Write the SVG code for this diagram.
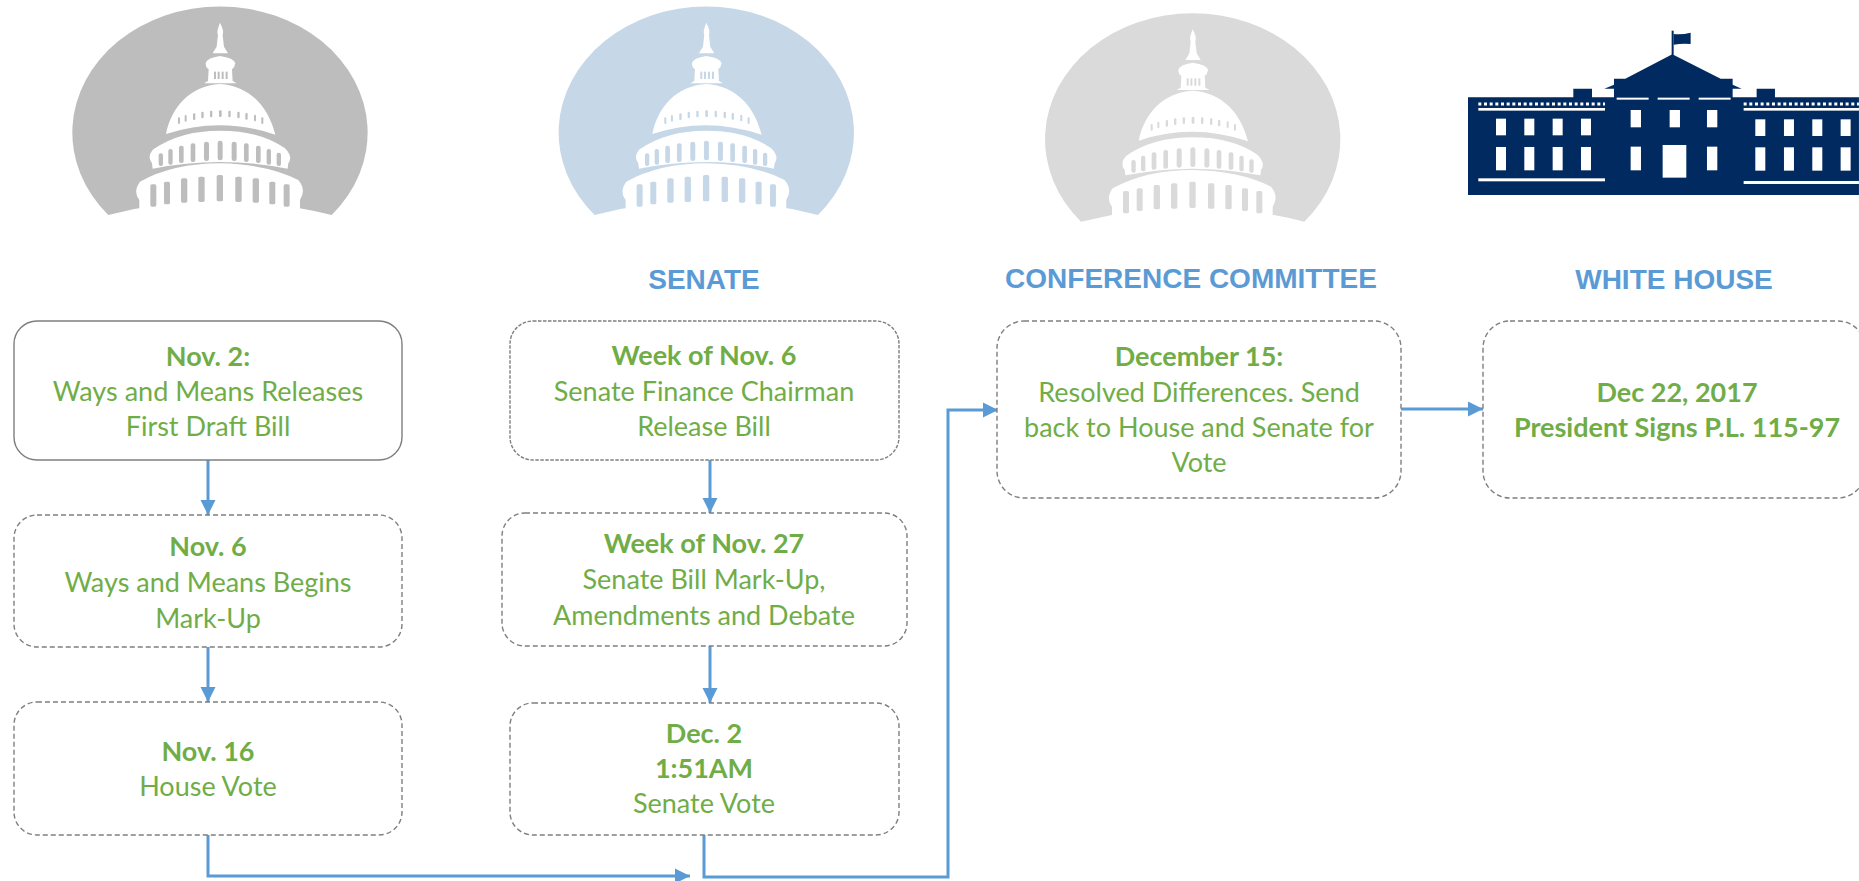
<svg xmlns="http://www.w3.org/2000/svg" width="1859" height="881" viewBox="0 0 1859 881">
<style>
.box{fill:#fff;stroke:#7f7f7f;stroke-width:1.4}
.dash{stroke-dasharray:5 3}
.dot{stroke-dasharray:3.5 1.5}
.t{font-family:"Lato","Carlito","Liberation Sans",sans-serif;font-size:27px;fill:#70ad47;text-anchor:middle}
.b{font-weight:700}
.h{font-family:"Liberation Sans",Arial,sans-serif;font-weight:700;font-size:28px;fill:#5b9bd5;text-anchor:middle}
.c{fill:none;stroke:#5b9bd5;stroke-width:3;marker-end:url(#ah)}
.w{fill:#fff}
</style>
<defs>
<marker id="ah" markerUnits="userSpaceOnUse" markerWidth="16" markerHeight="16" refX="15" refY="8" orient="auto"><path d="M0 0.5L15 8L0 15.5Z" fill="#5b9bd5"/></marker>
<g id="dome" transform="scale(.3333)">
<path d="M205 645A443 378 0 1 1 875 645Q540 560 205 645Z"/>
<g class="w">
<path d="M540 68C548 85 552 95 548 105L552 140L564 160L518 160L530 140L534 105C530 95 534 85 540 68Z"/>
<path d="M497 190Q500 174 540 168Q582 174 586 190Q584 203 576 208L578 243L590 250H492L504 243L506 208Q497 203 497 190Z"/>
<path d="M378 402C395 320 450 258 540 252C630 258 685 320 706 404Q540 348 378 402Z"/>
<path d="M338 506L336 490Q320 470 340 448Q420 392 540 392Q660 392 735 445Q760 470 745 490L743 506Q540 466 338 506Z"/>
<path d="M298 650V600Q278 575 300 545Q400 490 540 490Q680 492 775 540Q800 570 780 600V650Z"/>
</g>
<g>
<rect x="522" y="215" width="6" height="22"/><rect x="533" y="215" width="6" height="22"/><rect x="545" y="215" width="6" height="22"/><rect x="557" y="215" width="6" height="22"/>
<rect x="414" y="352" width="6" height="20" rx="3"/><rect x="434" y="345" width="6" height="20" rx="3"/><rect x="459" y="340" width="7" height="20" rx="3"/><rect x="484" y="335" width="7" height="20" rx="3"/><rect x="510" y="332" width="7" height="20" rx="3"/><rect x="537" y="331" width="8" height="20" rx="3"/><rect x="565" y="332" width="7" height="20" rx="3"/><rect x="592" y="335" width="7" height="20" rx="3"/><rect x="616" y="339" width="7" height="20" rx="3"/><rect x="642" y="344" width="6" height="20" rx="3"/><rect x="664" y="352" width="6" height="20" rx="3"/>
<rect x="356" y="460" width="13" height="38" rx="6"/><rect x="385" y="447" width="13" height="47" rx="6"/><rect x="417" y="437" width="14" height="52" rx="6"/><rect x="452" y="430" width="14" height="56" rx="6"/><rect x="492" y="425" width="15" height="58" rx="7"/><rect x="533" y="422" width="15" height="59" rx="7"/><rect x="575" y="425" width="15" height="58" rx="7"/><rect x="612" y="430" width="14" height="56" rx="6"/><rect x="648" y="437" width="14" height="52" rx="6"/><rect x="680" y="447" width="13" height="47" rx="6"/><rect x="710" y="458" width="13" height="40" rx="6"/>
<rect x="331" y="553" width="18" height="67" rx="5"/><rect x="372" y="545" width="18" height="68" rx="5"/><rect x="423" y="535" width="19" height="73" rx="5"/><rect x="475" y="530" width="19" height="76" rx="5"/><rect x="530" y="525" width="19" height="79" rx="5"/><rect x="586" y="530" width="19" height="76" rx="5"/><rect x="638" y="535" width="19" height="73" rx="5"/><rect x="688" y="545" width="18" height="68" rx="5"/><rect x="731" y="553" width="18" height="67" rx="5"/>
</g>
</g>
</defs>
<g id="logo-house"><use href="#dome" x="40" y="0" fill="#bdbdbd"/></g>
<g id="logo-senate"><use href="#dome" x="526.3" y="0" fill="#c6d7e7"/></g>
<g id="logo-conference"><use href="#dome" x="1012.7" y="6.7" fill="#dadada"/></g>
<g id="logo-white-house" transform="translate(1450 10) scale(.3333)">
<path fill="#012a60" d="M54 262H370V236H426V262H492V236H463L492 224V206H526L667 133L812 206H848V224L875 236H848V262H920V236H975V262H1227V555H54Z"/>
<rect x="665" y="62" width="6" height="73" fill="#012a60"/>
<path fill="#012a60" d="M671 72Q695 75 722 68V102Q695 100 671 104Z"/>
<g class="w">
<rect x="500" y="263" width="96" height="6"/><rect x="623" y="263" width="96" height="6"/><rect x="746" y="263" width="96" height="6"/>
<rect x="85" y="294" width="380" height="8"/><rect x="881" y="294" width="346" height="8"/>
<rect x="138" y="326" width="30" height="50"/><rect x="223" y="326" width="30" height="50"/><rect x="308" y="326" width="30" height="50"/><rect x="393" y="326" width="30" height="50"/>
<rect x="138" y="411" width="30" height="70"/><rect x="223" y="411" width="30" height="70"/><rect x="308" y="411" width="30" height="70"/><rect x="393" y="411" width="30" height="70"/>
<rect x="85" y="505" width="380" height="9"/><rect x="881" y="513" width="346" height="9"/>
<rect x="542" y="300" width="31" height="52"/><rect x="659" y="300" width="31" height="52"/><rect x="771" y="300" width="31" height="52"/>
<rect x="542" y="410" width="31" height="71"/><rect x="771" y="410" width="31" height="71"/><rect x="638" y="405" width="71" height="98"/>
<rect x="916" y="328" width="30" height="50"/><rect x="1002" y="328" width="30" height="50"/><rect x="1087" y="328" width="30" height="50"/><rect x="1172" y="328" width="30" height="50"/>
<rect x="916" y="412" width="30" height="70"/><rect x="1002" y="412" width="30" height="70"/><rect x="1087" y="412" width="30" height="70"/><rect x="1172" y="412" width="30" height="70"/>
</g>
<path d="M85 282H465M881 282H1227" stroke="#fff" stroke-width="9" stroke-dasharray="9 8" fill="none"/>
</g>
<g id="connectors">
<path class="c" d="M208 460V515"/>
<path class="c" d="M208 647V702"/>
<path class="c" d="M208 835V876H690"/>
<path class="c" d="M710 460V513"/>
<path class="c" d="M710 646V703"/>
<path class="c" d="M704 835V877H948V410H998"/>
<path class="c" d="M1401 409H1483"/>
</g>
<g id="title-senate"><text class="h" x="704" y="289">SENATE</text></g>
<g id="title-conference"><text class="h" x="1191" y="288">CONFERENCE COMMITTEE</text></g>
<g id="title-white-house"><text class="h" x="1674" y="289">WHITE HOUSE</text></g>
<g id="node-nov2"><rect class="box" x="14" y="321" width="388" height="139" rx="23"/>
<text class="t"><tspan class="b" x="208" y="366">Nov. 2:</tspan><tspan x="208" y="401">Ways and Means Releases</tspan><tspan x="208" y="436">First Draft Bill</tspan></text></g>
<g id="node-nov6"><rect class="box dash" x="14" y="515" width="388" height="132" rx="23"/>
<text class="t"><tspan class="b" x="208" y="556">Nov. 6</tspan><tspan x="208" y="592">Ways and Means Begins</tspan><tspan x="208" y="628">Mark-Up</tspan></text></g>
<g id="node-nov16"><rect class="box dash" x="14" y="702" width="388" height="133" rx="23"/>
<text class="t"><tspan class="b" x="208" y="761">Nov. 16</tspan><tspan x="208" y="796">House Vote</tspan></text></g>
<g id="node-week-nov6"><rect class="box dot" x="510" y="321" width="389" height="139" rx="23"/>
<text class="t"><tspan class="b" x="704" y="365">Week of Nov. 6</tspan><tspan x="704" y="401">Senate Finance Chairman</tspan><tspan x="704" y="436">Release Bill</tspan></text></g>
<g id="node-week-nov27"><rect class="box dash" x="502" y="513" width="405" height="133" rx="23"/>
<text class="t"><tspan class="b" x="704" y="553">Week of Nov. 27</tspan><tspan x="704" y="589">Senate Bill Mark-Up,</tspan><tspan x="704" y="625">Amendments and Debate</tspan></text></g>
<g id="node-dec2"><rect class="box dash" x="510" y="703" width="389" height="132" rx="23"/>
<text class="t"><tspan class="b" x="704" y="743">Dec. 2</tspan><tspan class="b" x="704" y="778">1:51AM</tspan><tspan x="704" y="813">Senate Vote</tspan></text></g>
<g id="node-dec15"><rect class="box dash" x="997" y="321" width="404" height="177" rx="27"/>
<text class="t"><tspan class="b" x="1199" y="366">December 15:</tspan><tspan x="1199" y="402">Resolved Differences. Send</tspan><tspan x="1199" y="437">back to House and Senate for</tspan><tspan x="1199" y="472">Vote</tspan></text></g>
<g id="node-dec22"><rect class="box dash" x="1483" y="321" width="382" height="177" rx="27"/>
<text class="t b"><tspan x="1677" y="402">Dec 22, 2017</tspan><tspan x="1677" y="437">President Signs P.L. 115-97</tspan></text></g>
</svg>
